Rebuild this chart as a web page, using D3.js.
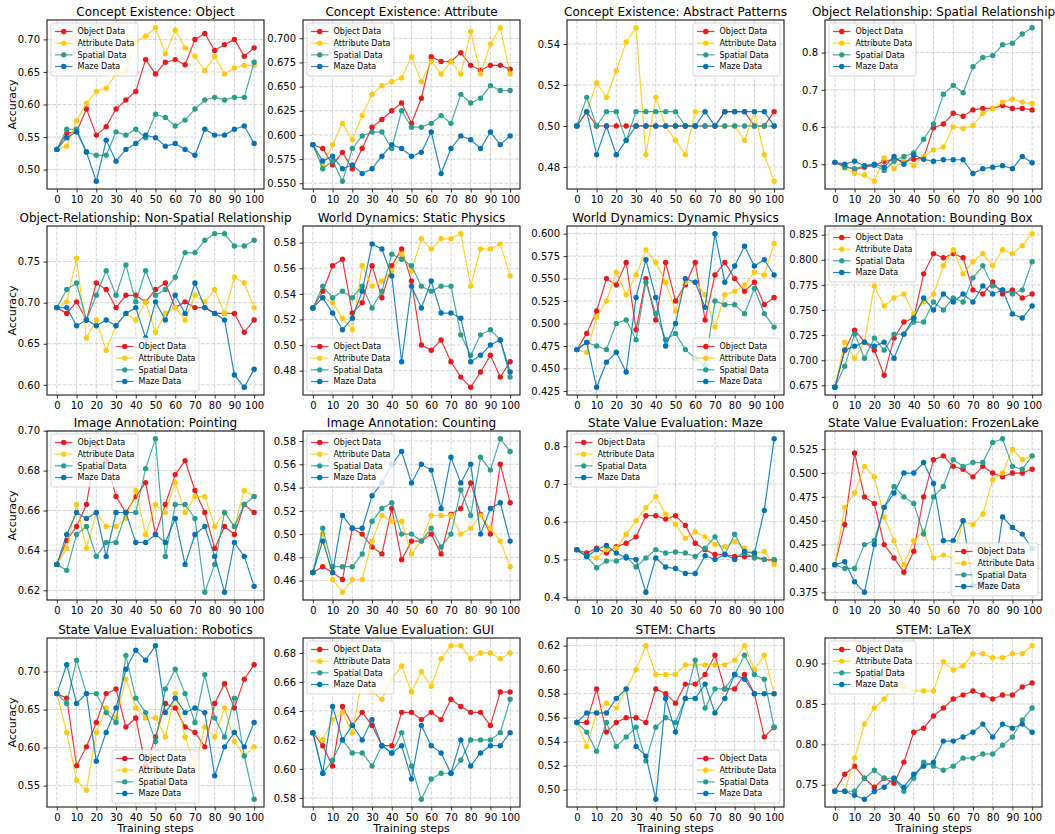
<!DOCTYPE html>
<html>
<head>
<meta charset="utf-8">
<script src="https://cdn.jsdelivr.net/npm/d3@7"></script>
<style>
  body { margin: 0; background: #fff; }
  svg text { font-family: "DejaVu Sans", sans-serif; fill: #000; }
</style>
</head>
<body>
<svg id="chart" width="1055" height="834"></svg>
<script>
'use strict';
(function() {

    // data
    var steps = [0, 5, 10, 15, 20, 25, 30, 35, 40, 45, 50, 55, 60, 65, 70, 75, 80, 85, 90, 95, 100];
    var xTicks = [0, 10, 20, 30, 40, 50, 60, 70, 80, 90, 100];
    var seriesNames = ['Object Data', 'Attribute Data', 'Spatial Data', 'Maze Data'];
    var seriesColors = ['#e41a1c', '#ffc914', '#2a9d8f', '#0072b2'];

    var panelTitles = [
        'Concept Existence: Object', 'Concept Existence: Attribute', 'Concept Existence: Abstract Patterns', 'Object Relationship: Spatial Relationship',
        'Object-Relationship: Non-Spatial Relationship', 'World Dynamics: Static Physics', 'World Dynamics: Dynamic Physics', 'Image Annotation: Bounding Box',
        'Image Annotation: Pointing', 'Image Annotation: Counting', 'State Value Evaluation: Maze', 'State Value Evaluation: FrozenLake',
        'State Value Evaluation: Robotics', 'State Value Evaluation: GUI', 'STEM: Charts', 'STEM: LaTeX'
    ];

    // rows: object, attribute, spatial, maze
    var ceObject = [
        [0.531,0.556,0.558,0.593,0.553,0.566,0.593,0.607,0.620,0.669,0.647,0.665,0.669,0.661,0.700,0.709,0.683,0.692,0.700,0.674,0.687],
        [0.531,0.536,0.575,0.602,0.620,0.625,0.647,0.652,0.696,0.705,0.718,0.678,0.714,0.687,0.674,0.652,0.674,0.647,0.656,0.660,0.660],
        [0.531,0.562,0.562,0.527,0.522,0.522,0.558,0.553,0.562,0.549,0.585,0.580,0.567,0.576,0.593,0.607,0.611,0.607,0.611,0.611,0.665],
        [0.531,0.549,0.558,0.527,0.482,0.545,0.513,0.531,0.540,0.553,0.549,0.536,0.540,0.531,0.522,0.562,0.553,0.553,0.562,0.567,0.540]
    ];
    var ceAttribute = [
        [0.590,0.586,0.569,0.582,0.565,0.586,0.608,0.616,0.625,0.633,0.612,0.638,0.681,0.676,0.676,0.685,0.672,0.667,0.672,0.672,0.668],
        [0.590,0.569,0.590,0.612,0.595,0.620,0.642,0.651,0.655,0.659,0.681,0.655,0.676,0.663,0.676,0.663,0.707,0.663,0.694,0.711,0.663],
        [0.590,0.565,0.573,0.552,0.586,0.599,0.603,0.603,0.586,0.625,0.608,0.608,0.612,0.620,0.612,0.642,0.633,0.638,0.651,0.646,0.646],
        [0.590,0.573,0.578,0.565,0.569,0.560,0.565,0.578,0.590,0.586,0.578,0.582,0.603,0.560,0.586,0.599,0.595,0.586,0.603,0.590,0.599]
    ];
    var ceAbstract = [
        [0.500,0.507,0.500,0.500,0.500,0.500,0.500,0.500,0.500,0.500,0.500,0.500,0.500,0.500,0.500,0.507,0.507,0.507,0.500,0.500,0.507],
        [0.500,0.507,0.521,0.514,0.527,0.541,0.548,0.486,0.514,0.500,0.493,0.486,0.507,0.507,0.500,0.500,0.500,0.493,0.507,0.486,0.473],
        [0.500,0.514,0.500,0.507,0.507,0.493,0.507,0.507,0.507,0.507,0.507,0.500,0.500,0.500,0.500,0.500,0.500,0.500,0.500,0.500,0.500],
        [0.500,0.507,0.486,0.500,0.486,0.493,0.500,0.500,0.500,0.500,0.500,0.500,0.500,0.507,0.500,0.507,0.507,0.507,0.507,0.507,0.500]
    ];
    var orSpatial = [
        [0.505,0.495,0.486,0.492,0.497,0.508,0.513,0.508,0.513,0.517,0.598,0.608,0.637,0.629,0.646,0.650,0.650,0.658,0.650,0.650,0.646],
        [0.505,0.490,0.475,0.471,0.454,0.517,0.488,0.513,0.496,0.521,0.538,0.546,0.600,0.596,0.604,0.637,0.650,0.667,0.675,0.667,0.663],
        [0.505,0.492,0.488,0.495,0.497,0.483,0.508,0.521,0.530,0.567,0.608,0.688,0.712,0.692,0.762,0.787,0.792,0.821,0.825,0.850,0.867],
        [0.505,0.500,0.508,0.496,0.500,0.492,0.521,0.500,0.525,0.513,0.508,0.512,0.512,0.512,0.475,0.488,0.492,0.496,0.488,0.521,0.504]
    ];
    var orNonSpatial = [
        [0.694,0.687,0.701,0.679,0.724,0.716,0.694,0.709,0.709,0.701,0.716,0.724,0.694,0.701,0.694,0.694,0.687,0.687,0.687,0.664,0.679],
        [0.694,0.701,0.754,0.657,0.679,0.642,0.672,0.687,0.679,0.701,0.664,0.687,0.694,0.679,0.709,0.701,0.716,0.687,0.731,0.724,0.694],
        [0.694,0.716,0.724,0.679,0.709,0.739,0.709,0.746,0.701,0.739,0.709,0.716,0.731,0.761,0.761,0.776,0.784,0.784,0.769,0.769,0.776],
        [0.694,0.694,0.672,0.679,0.672,0.679,0.672,0.687,0.694,0.657,0.701,0.679,0.709,0.687,0.724,0.694,0.687,0.679,0.612,0.597,0.619]
    ];
    var wdStatic = [
        [0.529,0.542,0.562,0.567,0.525,0.533,0.562,0.537,0.562,0.575,0.550,0.500,0.496,0.504,0.487,0.475,0.467,0.479,0.492,0.475,0.487],
        [0.529,0.537,0.533,0.521,0.512,0.562,0.546,0.550,0.558,0.571,0.558,0.583,0.575,0.583,0.583,0.587,0.546,0.575,0.575,0.579,0.554],
        [0.529,0.546,0.537,0.542,0.537,0.546,0.529,0.542,0.571,0.567,0.562,0.546,0.542,0.546,0.546,0.508,0.492,0.508,0.512,0.504,0.475],
        [0.529,0.537,0.525,0.512,0.521,0.542,0.579,0.575,0.554,0.487,0.546,0.529,0.550,0.525,0.525,0.521,0.487,0.492,0.500,0.504,0.479]
    ];
    var wdDynamic = [
        [0.471,0.489,0.514,0.550,0.543,0.568,0.493,0.550,0.504,0.568,0.525,0.543,0.568,0.504,0.554,0.568,0.550,0.536,0.546,0.521,0.529],
        [0.471,0.468,0.507,0.525,0.557,0.532,0.554,0.582,0.568,0.546,0.514,0.546,0.546,0.532,0.496,0.532,0.536,0.543,0.557,0.554,0.589],
        [0.471,0.479,0.475,0.471,0.500,0.504,0.482,0.546,0.511,0.482,0.489,0.471,0.461,0.454,0.525,0.521,0.521,0.511,0.539,0.511,0.496],
        [0.471,0.479,0.429,0.457,0.468,0.446,0.529,0.571,0.529,0.475,0.500,0.550,0.546,0.518,0.600,0.546,0.564,0.586,0.564,0.571,0.554]
    ];
    var iaBoundingBox = [
        [0.673,0.710,0.730,0.718,0.710,0.685,0.722,0.738,0.742,0.786,0.806,0.802,0.806,0.802,0.770,0.766,0.778,0.766,0.770,0.762,0.766],
        [0.673,0.718,0.702,0.718,0.774,0.754,0.762,0.766,0.746,0.758,0.766,0.794,0.810,0.786,0.798,0.806,0.794,0.810,0.806,0.814,0.826],
        [0.673,0.694,0.726,0.702,0.722,0.710,0.726,0.726,0.738,0.738,0.758,0.750,0.762,0.758,0.782,0.794,0.774,0.770,0.766,0.770,0.798],
        [0.673,0.710,0.714,0.718,0.714,0.718,0.702,0.726,0.742,0.762,0.750,0.766,0.758,0.766,0.758,0.774,0.766,0.770,0.746,0.742,0.754]
    ];
    var iaPointing = [
        [0.633,0.645,0.652,0.663,0.693,0.685,0.667,0.659,0.667,0.674,0.648,0.663,0.678,0.685,0.670,0.659,0.641,0.652,0.648,0.663,0.659],
        [0.633,0.641,0.663,0.641,0.659,0.652,0.652,0.656,0.670,0.648,0.663,0.659,0.674,0.659,0.667,0.667,0.652,0.659,0.652,0.670,0.667],
        [0.633,0.630,0.648,0.652,0.637,0.644,0.644,0.659,0.659,0.681,0.696,0.637,0.663,0.663,0.656,0.619,0.633,0.659,0.652,0.663,0.667],
        [0.633,0.648,0.659,0.656,0.659,0.637,0.659,0.659,0.644,0.644,0.648,0.644,0.656,0.633,0.648,0.652,0.637,0.619,0.644,0.637,0.622]
    ];
    var iaCounting = [
        [0.467,0.472,0.467,0.461,0.505,0.500,0.489,0.483,0.522,0.478,0.494,0.494,0.500,0.483,0.517,0.522,0.544,0.517,0.500,0.560,0.527],
        [0.467,0.500,0.461,0.450,0.461,0.461,0.494,0.516,0.511,0.511,0.483,0.494,0.516,0.516,0.516,0.500,0.505,0.516,0.505,0.494,0.472],
        [0.467,0.505,0.472,0.472,0.472,0.483,0.511,0.522,0.527,0.500,0.500,0.494,0.505,0.489,0.500,0.538,0.516,0.566,0.555,0.582,0.571],
        [0.467,0.494,0.467,0.516,0.505,0.505,0.533,0.544,0.560,0.571,0.544,0.560,0.555,0.522,0.566,0.544,0.560,0.500,0.522,0.527,0.494]
    ];
    var svMaze = [
        [0.526,0.517,0.530,0.517,0.534,0.543,0.560,0.616,0.616,0.607,0.616,0.590,0.543,0.526,0.513,0.513,0.508,0.508,0.508,0.500,0.496],
        [0.526,0.508,0.504,0.526,0.530,0.567,0.603,0.637,0.667,0.620,0.593,0.556,0.573,0.560,0.540,0.534,0.547,0.530,0.517,0.521,0.487],
        [0.526,0.508,0.478,0.496,0.496,0.508,0.480,0.504,0.526,0.517,0.520,0.517,0.508,0.530,0.560,0.513,0.567,0.517,0.504,0.500,0.500],
        [0.526,0.508,0.526,0.537,0.517,0.504,0.500,0.413,0.504,0.480,0.476,0.463,0.463,0.510,0.500,0.513,0.500,0.521,0.517,0.630,0.820]
    ];
    var svFrozenLake = [
        [0.404,0.446,0.521,0.475,0.468,0.425,0.411,0.396,0.418,0.475,0.514,0.518,0.507,0.504,0.496,0.507,0.500,0.496,0.500,0.500,0.504],
        [0.404,0.464,0.479,0.507,0.496,0.454,0.429,0.404,0.429,0.439,0.411,0.414,0.411,0.450,0.446,0.457,0.493,0.500,0.525,0.514,0.518],
        [0.404,0.400,0.400,0.425,0.429,0.464,0.486,0.475,0.468,0.436,0.475,0.486,0.514,0.507,0.511,0.511,0.532,0.536,0.507,0.504,0.518],
        [0.404,0.407,0.386,0.375,0.425,0.464,0.479,0.500,0.500,0.511,0.489,0.429,0.429,0.450,0.382,0.385,0.382,0.454,0.443,0.436,0.421]
    ];
    var svRobotics = [
        [0.671,0.665,0.576,0.601,0.633,0.671,0.677,0.627,0.639,0.576,0.614,0.658,0.652,0.627,0.620,0.601,0.658,0.684,0.652,0.690,0.709],
        [0.671,0.620,0.557,0.544,0.620,0.652,0.639,0.690,0.652,0.639,0.639,0.614,0.671,0.614,0.576,0.627,0.614,0.652,0.608,0.589,0.601],
        [0.671,0.658,0.715,0.671,0.671,0.646,0.633,0.721,0.665,0.646,0.608,0.677,0.703,0.671,0.633,0.696,0.639,0.614,0.665,0.589,0.532],
        [0.671,0.709,0.658,0.671,0.582,0.620,0.652,0.703,0.728,0.715,0.734,0.646,0.665,0.646,0.652,0.646,0.563,0.601,0.620,0.601,0.633]
    ];
    var svGui = [
        [0.625,0.616,0.602,0.643,0.630,0.639,0.630,0.616,0.616,0.639,0.639,0.634,0.639,0.634,0.648,0.643,0.639,0.639,0.630,0.653,0.653],
        [0.625,0.620,0.634,0.639,0.625,0.662,0.653,0.648,0.662,0.671,0.653,0.667,0.657,0.676,0.685,0.685,0.676,0.680,0.680,0.676,0.680],
        [0.625,0.597,0.606,0.620,0.611,0.611,0.602,0.616,0.611,0.625,0.602,0.579,0.593,0.597,0.597,0.606,0.620,0.620,0.620,0.625,0.648],
        [0.625,0.597,0.643,0.620,0.630,0.620,0.634,0.616,0.611,0.616,0.593,0.630,0.616,0.611,0.597,0.620,0.602,0.611,0.616,0.616,0.625]
    ];
    var stemCharts = [
        [0.556,0.556,0.584,0.548,0.556,0.560,0.560,0.556,0.584,0.580,0.572,0.588,0.588,0.596,0.612,0.584,0.584,0.596,0.580,0.544,0.552],
        [0.556,0.536,0.564,0.572,0.568,0.584,0.600,0.620,0.596,0.596,0.596,0.604,0.604,0.604,0.604,0.604,0.608,0.620,0.600,0.612,0.580],
        [0.556,0.548,0.532,0.556,0.536,0.544,0.552,0.524,0.552,0.560,0.556,0.576,0.608,0.568,0.584,0.584,0.596,0.612,0.596,0.592,0.552],
        [0.556,0.564,0.564,0.564,0.576,0.584,0.536,0.528,0.492,0.576,0.548,0.576,0.576,0.588,0.564,0.576,0.596,0.592,0.580,0.580,0.580]
    ];
    var stemLatex = [
        [0.742,0.763,0.773,0.758,0.747,0.758,0.752,0.778,0.815,0.820,0.835,0.845,0.856,0.861,0.866,0.861,0.856,0.861,0.861,0.871,0.876],
        [0.742,0.742,0.783,0.825,0.845,0.856,0.871,0.871,0.866,0.866,0.866,0.902,0.892,0.897,0.912,0.912,0.907,0.907,0.912,0.912,0.922],
        [0.742,0.742,0.742,0.758,0.768,0.758,0.758,0.742,0.758,0.778,0.773,0.768,0.773,0.783,0.783,0.788,0.788,0.799,0.809,0.830,0.845],
        [0.742,0.742,0.737,0.732,0.742,0.747,0.758,0.747,0.763,0.773,0.778,0.804,0.804,0.809,0.815,0.825,0.809,0.825,0.820,0.825,0.815]
    ];

    var yTicks = [
        [0.50, 0.55, 0.60, 0.65, 0.70],
        [0.550, 0.575, 0.600, 0.625, 0.650, 0.675, 0.700],
        [0.48, 0.50, 0.52, 0.54],
        [0.5, 0.6, 0.7, 0.8],
        [0.60, 0.65, 0.70, 0.75],
        [0.48, 0.50, 0.52, 0.54, 0.56, 0.58],
        [0.425, 0.450, 0.475, 0.500, 0.525, 0.550, 0.575, 0.600],
        [0.675, 0.700, 0.725, 0.750, 0.775, 0.800, 0.825],
        [0.62, 0.64, 0.66, 0.68, 0.70],
        [0.46, 0.48, 0.50, 0.52, 0.54, 0.56, 0.58],
        [0.4, 0.5, 0.6, 0.7, 0.8],
        [0.375, 0.400, 0.425, 0.450, 0.475, 0.500, 0.525],
        [0.55, 0.60, 0.65, 0.70],
        [0.58, 0.60, 0.62, 0.64, 0.66, 0.68],
        [0.50, 0.52, 0.54, 0.56, 0.58, 0.60, 0.62],
        [0.75, 0.80, 0.85, 0.90]
    ];
    var yTickDigits = [2, 3, 2, 1, 2, 2, 3, 3, 2, 2, 1, 3, 2, 2, 2, 2];

    var panelData = [ceObject, ceAttribute, ceAbstract, orSpatial, orNonSpatial, wdStatic, wdDynamic, iaBoundingBox,
        iaPointing, iaCounting, svMaze, svFrozenLake, svRobotics, svGui, stemCharts, stemLatex];

    var legendLoc = ['upper left', 'upper left', 'upper right', 'upper left',
        'lower center', 'lower left', 'lower right', 'upper left',
        'upper left', 'upper left', 'upper left', 'lower right',
        'lower center', 'upper left', 'lower right', 'upper left'];

    // layout
    var colX = [47, 303, 567, 825],
        rowY = [20, 226, 431, 638],
        panelW = 217,
        panelH = 169;

    var svg = d3.select('#chart');

    panelData.forEach(function(rows, i) {
        var col = i % 4, row = Math.floor(i / 4);
        drawPanel(rows, i, colX[col], rowY[row], col, row);
    });

    function drawPanel(rows, i, left, top, col, row) {
        var g = svg.append('g')
            .attr('transform', 'translate(' + left + ',' + top + ')');

        var allVals = d3.merge(rows);
        var lo = d3.min(allVals), hi = d3.max(allVals), pad = (hi - lo) * 0.05;

        var scaleX = d3.scaleLinear().domain([-5, 105]).range([0, panelW]);
        var scaleY = d3.scaleLinear().domain([lo - pad, hi + pad]).range([panelH, 0]);

        // grid
        var grid = g.append('g').attr('class', 'grid');
        grid.selectAll('line.gx')
            .data(xTicks)
            .enter().append('line')
            .attr('x1', function(d) { return scaleX(d); })
            .attr('x2', function(d) { return scaleX(d); })
            .attr('y1', 0).attr('y2', panelH);
        grid.selectAll('line.gy')
            .data(yTicks[i])
            .enter().append('line')
            .attr('y1', function(d) { return scaleY(d); })
            .attr('y2', function(d) { return scaleY(d); })
            .attr('x1', 0).attr('x2', panelW);
        grid.selectAll('line')
            .attr('stroke', '#b0b0b0')
            .attr('stroke-opacity', 0.7)
            .attr('stroke-width', 0.8)
            .attr('stroke-dasharray', '3.7,1.6');

        // axes
        var fmt = d3.format('.' + yTickDigits[i] + 'f');
        var xAxis = g.append('g')
            .attr('transform', 'translate(0,' + panelH + ')')
            .call(d3.axisBottom(scaleX).tickValues(xTicks).tickSize(3.5).tickPadding(3.5).tickFormat(d3.format('d')));
        var yAxis = g.append('g')
            .call(d3.axisLeft(scaleY).tickValues(yTicks[i]).tickSize(3.5).tickPadding(3.5).tickFormat(fmt));
        [xAxis, yAxis].forEach(function(ax) {
            ax.select('.domain').remove();
            ax.selectAll('line').attr('stroke', '#000').attr('stroke-width', 0.8);
            ax.selectAll('text').attr('font-size', 10).attr('font-family', 'DejaVu Sans');
        });

        // series
        var line = d3.line()
            .x(function(d, k) { return scaleX(steps[k]); })
            .y(function(d) { return scaleY(d); });

        rows.forEach(function(vals, s) {
            g.append('path')
                .datum(vals)
                .attr('d', line)
                .attr('fill', 'none')
                .attr('stroke', seriesColors[s])
                .attr('stroke-opacity', 0.85)
                .attr('stroke-width', 1.2);
            g.selectAll('circle.s' + s)
                .data(vals)
                .enter().append('circle')
                .attr('class', 's' + s)
                .attr('cx', function(d, k) { return scaleX(steps[k]); })
                .attr('cy', function(d) { return scaleY(d); })
                .attr('r', 2.7)
                .attr('fill', seriesColors[s]);
        });

        // frame
        g.append('rect')
            .attr('width', panelW).attr('height', panelH)
            .attr('fill', 'none').attr('stroke', '#000').attr('stroke-width', 1);

        // title
        g.append('text')
            .attr('x', panelW / 2).attr('y', -4)
            .attr('text-anchor', 'middle')
            .attr('font-size', 12)
            .text(panelTitles[i]);

        if (col === 0) {
            g.append('text')
                .attr('transform', 'translate(' + (12 - left) + ',' + (panelH / 2) + ') rotate(-90)')
                .attr('text-anchor', 'middle')
                .attr('dy', '0.35em')
                .attr('font-size', 11)
                .text('Accuracy');
        }
        if (row === 3) {
            g.append('text')
                .attr('x', panelW / 2).attr('y', panelH + 25)
                .attr('text-anchor', 'middle')
                .attr('font-size', 11)
                .text('Training steps');
        }

        drawLegend(g, legendLoc[i]);
    }

    function drawLegend(g, loc) {
        var lg = g.append('g');
        var box = lg.append('rect');
        var texts = [];
        seriesNames.forEach(function(name, s) {
            var cy = 8.5 + s * 11.67;
            lg.append('line')
                .attr('x1', 4).attr('x2', 21.5)
                .attr('y1', cy).attr('y2', cy)
                .attr('stroke', seriesColors[s])
                .attr('stroke-opacity', 0.85)
                .attr('stroke-width', 1.2);
            lg.append('circle')
                .attr('cx', 12.75).attr('cy', cy).attr('r', 2.7)
                .attr('fill', seriesColors[s]);
            texts.push(lg.append('text')
                .attr('x', 26.5).attr('y', cy)
                .attr('dy', '0.35em')
                .attr('font-size', 8)
                .text(name));
        });
        var tw = d3.max(texts, function(t) { return t.node().getComputedTextLength(); });
        var bw = 26.5 + tw + 3.5, bh = 53;
        box.attr('width', bw).attr('height', bh)
            .attr('rx', 2)
            .attr('fill', '#fff').attr('fill-opacity', 0.8)
            .attr('stroke', '#cccccc').attr('stroke-width', 0.8);

        var x = 4, y = 3;
        if (loc.indexOf('right') >= 0) x = panelW - bw - 4;
        if (loc.indexOf('center') >= 0) x = (panelW - bw) / 2;
        if (loc.indexOf('lower') >= 0) y = panelH - bh - 4;
        lg.attr('transform', 'translate(' + x + ',' + y + ')');
    }

})();
</script>
</body>
</html>
